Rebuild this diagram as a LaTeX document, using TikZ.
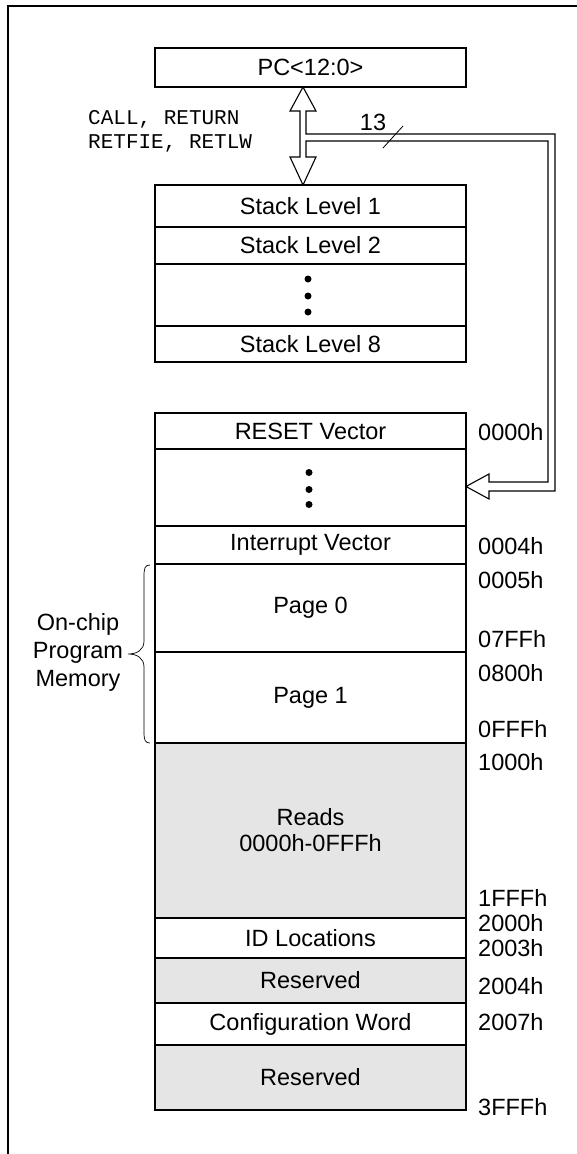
\documentclass[tikz,border=0pt]{standalone}
\usepackage{fontspec}
\setmainfont{Liberation Sans}
\setmonofont{Liberation Mono}
\definecolor{rsvgray}{HTML}{E5E5E5}
\tikzset{
  cell/.style={draw,line width=1.3pt,minimum width=311pt,inner sep=0pt,outer sep=0pt,align=center},
  rsvcell/.style={cell,fill=rsvgray},
  addr/.style={anchor=west,inner sep=0pt},
  bus/.style={line width=1.1pt,line join=miter}
}
\begin{document}
\begin{tikzpicture}[x=1pt,y=-1pt,font=\fontsize{23.5}{28}\selectfont]
                \useasboundingbox (0,0) rectangle (577,1154);
                %% frame
                \draw[line width=1.3pt] (580,6) -- (8,6) -- (8,1160);
                %% program counter
                \node[cell,minimum height=39pt] (pc) at (310.5,67.5) {PC<12:0>};
                %% stack
                \node[cell,minimum height=42pt] (s1) at (310.5,206) {Stack Level 1};
                \node[cell,minimum height=37pt] (s2) at (310.5,245.5) {Stack Level 2};
                \node[cell,minimum height=62pt] (sdots) at (310.5,295) {};
                \node[cell,minimum height=36pt] (s8) at (310.5,344) {Stack Level 8};
                \foreach \dy in {-16,1,17}
                    \fill ([shift={(-2.5,\dy)}]sdots.center) circle (3.5pt);
                %% program memory
                \node[cell,minimum height=36pt] (reset) at (310.5,431) {RESET Vector};
                \node[cell,minimum height=77pt] (vdots) at (310.5,487.5) {};
                \node[cell,minimum height=38pt] (intv) at (310.5,545) {Interrupt Vector};
                \node[cell,minimum height=88pt] (page0) at (310.5,608) {Page 0};
                \node[cell,minimum height=91pt] (page1) at (310.5,697.5) {Page 1};
                \node[rsvcell,minimum height=175pt] (reads) at (310.5,830.5) {Reads\\[-2pt]0000h-0FFFh};
                \node[cell,minimum height=40pt] (idloc) at (310.5,938) {ID Locations};
                \node[rsvcell,minimum height=45pt] (rsv1) at (310.5,980.5) {Reserved};
                \node[cell,minimum height=42pt] (config) at (310.5,1024) {Configuration Word};
                \node[rsvcell,minimum height=65pt] (rsv2) at (310.5,1077.5) {Reserved};
                \foreach \dy in {-15,2,17}
                    \fill ([shift={(-1.5,\dy)}]vdots.center) circle (3.5pt);
                %% addresses
                \node[addr] (a0000) at (478,432) {0000h};
                \node[addr] (a0004) at (478,546) {0004h};
                \node[addr] (a0005) at (478,580) {0005h};
                \node[addr] (a07ff) at (478,639) {07FFh};
                \node[addr] (a0800) at (478,673) {0800h};
                \node[addr] (a0fff) at (478,729) {0FFFh};
                \node[addr] (a1000) at (478,762) {1000h};
                \node[addr] (a1fff) at (478,898) {1FFFh};
                \node[addr] (a2000) at (478,923) {2000h};
                \node[addr] (a2003) at (478,948) {2003h};
                \node[addr] (a2004) at (478,986) {2004h};
                \node[addr] (a2007) at (478,1022) {2007h};
                \node[addr] (a3fff) at (478,1107) {3FFFh};
                %% on-chip brace
                \node[align=center,inner sep=0pt] (onchip) at (78,652) {On-chip\\Program\\Memory};
                \draw[line width=0.7pt] (150,565) .. controls (145,565) and (144,568) .. (144,576) -- (144,641)
                    .. controls (144,650) and (137,654) .. (128,654) .. controls (137,654) and (144,658) .. (144,667)
                    -- (144,732) .. controls (144,740) and (145,743) .. (150,743);
                %% bus: PC <-> stack, 13 bits to memory
                \node[anchor=west,align=left,inner sep=0pt,font=\ttfamily\fontsize{21}{24}\selectfont] (calls) at (88,131) {CALL, RETURN\\RETFIE, RETLW};
                \draw[bus] (pc.south -| 303,0) -- (316,111) -- (306,111) -- (306,134) -- (555,134) -- (555,491)
                    -- (489,491) -- (489,499) -- (vdots.east |- 0,486.5) -- (489,474) -- (489,482) -- (548,482)
                    -- (548,141) -- (306,141) -- (306,157) -- (316,157) -- (s1.north -| 303,0) -- (290,157)
                    -- (300,157) -- (300,111) -- (290,111) -- cycle;
                \node (buswidth) at (373,122) {13};
                \draw[line width=0.8pt] (383,148) -- (403,126);
            \end{tikzpicture}
\end{document}
